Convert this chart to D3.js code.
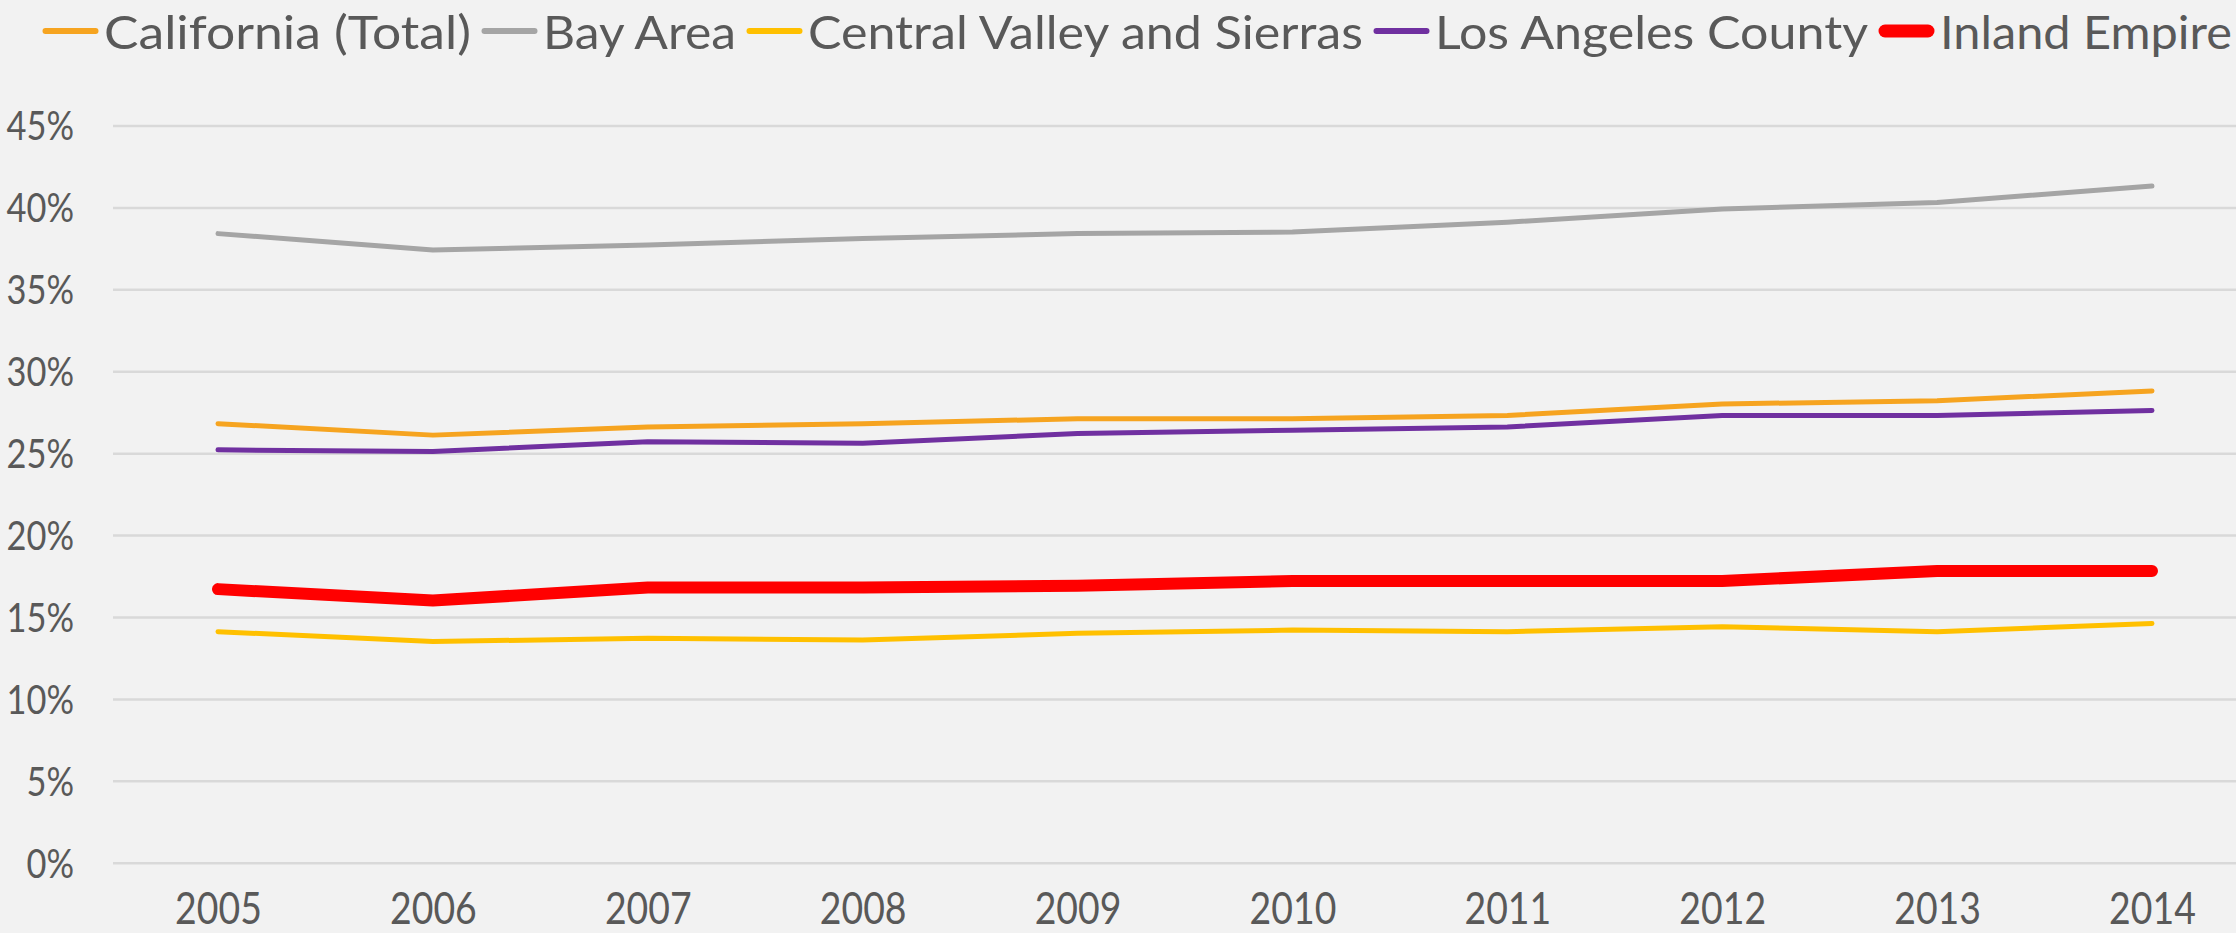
<!DOCTYPE html>
<html lang="en">
<head>
    <meta charset="UTF-8">
    <title>regional share</title>
    <style>
        html, body { margin: 0; padding: 0; background: #f2f2f2; }
        svg { display: block; }
        text { font-family: Lato, "Open Sans", sans-serif; fill: #595959; }
    </style>
</head>
<body>
<svg></svg>

<script src="https://cdn.jsdelivr.net/npm/d3@7"></script>
<script>
    // data
    var years = ["2005", "2006", "2007", "2008", "2009", "2010", "2011", "2012", "2013", "2014"];
    var seriesNames = ["California (Total)", "Bay Area", "Central Valley and Sierras", "Los Angeles County", "Inland Empire"];
    var california = [26.8, 26.1, 26.6, 26.8, 27.1, 27.1, 27.3, 28.0, 28.2, 28.8];
    var bayArea = [38.4, 37.4, 37.7, 38.1, 38.4, 38.5, 39.1, 39.9, 40.3, 41.3];
    var centralValley = [14.1, 13.5, 13.7, 13.6, 14.0, 14.2, 14.1, 14.4, 14.1, 14.6];
    var losAngeles = [25.2, 25.1, 25.7, 25.6, 26.2, 26.4, 26.6, 27.3, 27.3, 27.6];
    var inlandEmpire = [16.7, 16.0, 16.8, 16.8, 16.9, 17.2, 17.2, 17.2, 17.8, 17.8];
    var yTicks = [0, 5, 10, 15, 20, 25, 30, 35, 40, 45];

    var colors = ["#f6a420", "#a5a5a5", "#ffc000", "#7030a0", "#ff0000"];
    var widths = [5, 5, 5, 5, 12];
    var legendTextWidth = [367, 193, 555, 433, 292];

    var width = 2236;
    var height = 933;

    var series = [california, bayArea, centralValley, losAngeles, inlandEmpire].map(function(v, i){
        return { name: seriesNames[i], values: v, color: colors[i], w: widths[i] };
    });

    var svg = d3.select("svg")
        .attr("width", width)
        .attr("height", height);

    svg.append("rect")
        .attr("width", width)
        .attr("height", height)
        .attr("fill", "#f2f2f2");

    //比例尺
    var x = d3.scalePoint()
        .domain(years)
        .range([218, 2152]);

    var y = d3.scaleLinear()
        .domain([0, 45])
        .range([862.7, 125.5]);

    // gridlines
    var gridAxis = d3.axisLeft(y)
        .tickValues(yTicks)
        .tickSize(-(width - 113))
        .tickFormat("");

    var grid = svg.append("g")
        .attr("transform", "translate(113,0)")
        .call(gridAxis);
    grid.select(".domain").remove();
    grid.selectAll("line")
        .attr("stroke", "#d9d9d9")
        .attr("stroke-width", 2.5);

    // y labels
    var yAxis = d3.axisLeft(y)
        .tickValues(yTicks)
        .tickSize(0)
        .tickPadding(0)
        .tickFormat(function(d){ return d + "%"; });

    var yG = svg.append("g")
        .attr("transform", "translate(74,0)")
        .call(yAxis);
    yG.select(".domain").remove();
    yG.selectAll("text")
        .attr("font-size", 40)
        .attr("fill", "#595959")
        .attr("font-family", "Lato, sans-serif")
        .attr("dy", "0.36em");

    // x labels
    var xAxis = d3.axisBottom(x)
        .tickSize(0)
        .tickPadding(0);

    var xG = svg.append("g")
        .attr("transform", "translate(0,924)")
        .call(xAxis);
    xG.select(".domain").remove();
    xG.selectAll("text")
        .attr("font-size", 44)
        .attr("fill", "#595959")
        .attr("font-family", "Lato, sans-serif")
        .attr("dy", 0);

    // narrow the glyphs a bit, the original font is condensed
    function squeeze(sel, k){
        sel.each(function(){
            var n = this.getComputedTextLength();
            d3.select(this)
                .attr("textLength", n * k)
                .attr("lengthAdjust", "spacingAndGlyphs");
        });
    }
    squeeze(yG.selectAll("text"), 0.86);
    squeeze(xG.selectAll("text"), 0.85);

    // lines
    var line = d3.line()
        .x(function(d, i){ return x(years[i]); })
        .y(function(d){ return y(d); });

    svg.append("g")
        .selectAll("path")
        .data(series)
        .enter()
        .append("path")
        .attr("d", function(d){ return line(d.values); })
        .attr("fill", "none")
        .attr("stroke", function(d){ return d.color; })
        .attr("stroke-width", function(d){ return d.w; })
        .attr("stroke-linecap", "round")
        .attr("stroke-linejoin", "round");

    // legend
    var legend = svg.append("g");
    var cx = 43;
    series.forEach(function(s, i){
        var cap = s.w / 2;
        legend.append("line")
            .attr("x1", cx + cap)
            .attr("x2", cx + 55 - cap)
            .attr("y1", 31)
            .attr("y2", 31)
            .attr("stroke", s.color)
            .attr("stroke-width", s.w + 1)
            .attr("stroke-linecap", "round");
        legend.append("text")
            .attr("x", cx + 61)
            .attr("y", 49)
            .attr("font-size", 47)
            .attr("textLength", legendTextWidth[i])
            .attr("lengthAdjust", "spacingAndGlyphs")
            .text(s.name);
        cx += 61 + legendTextWidth[i] + 11;
    });
</script>
</body>
</html>
